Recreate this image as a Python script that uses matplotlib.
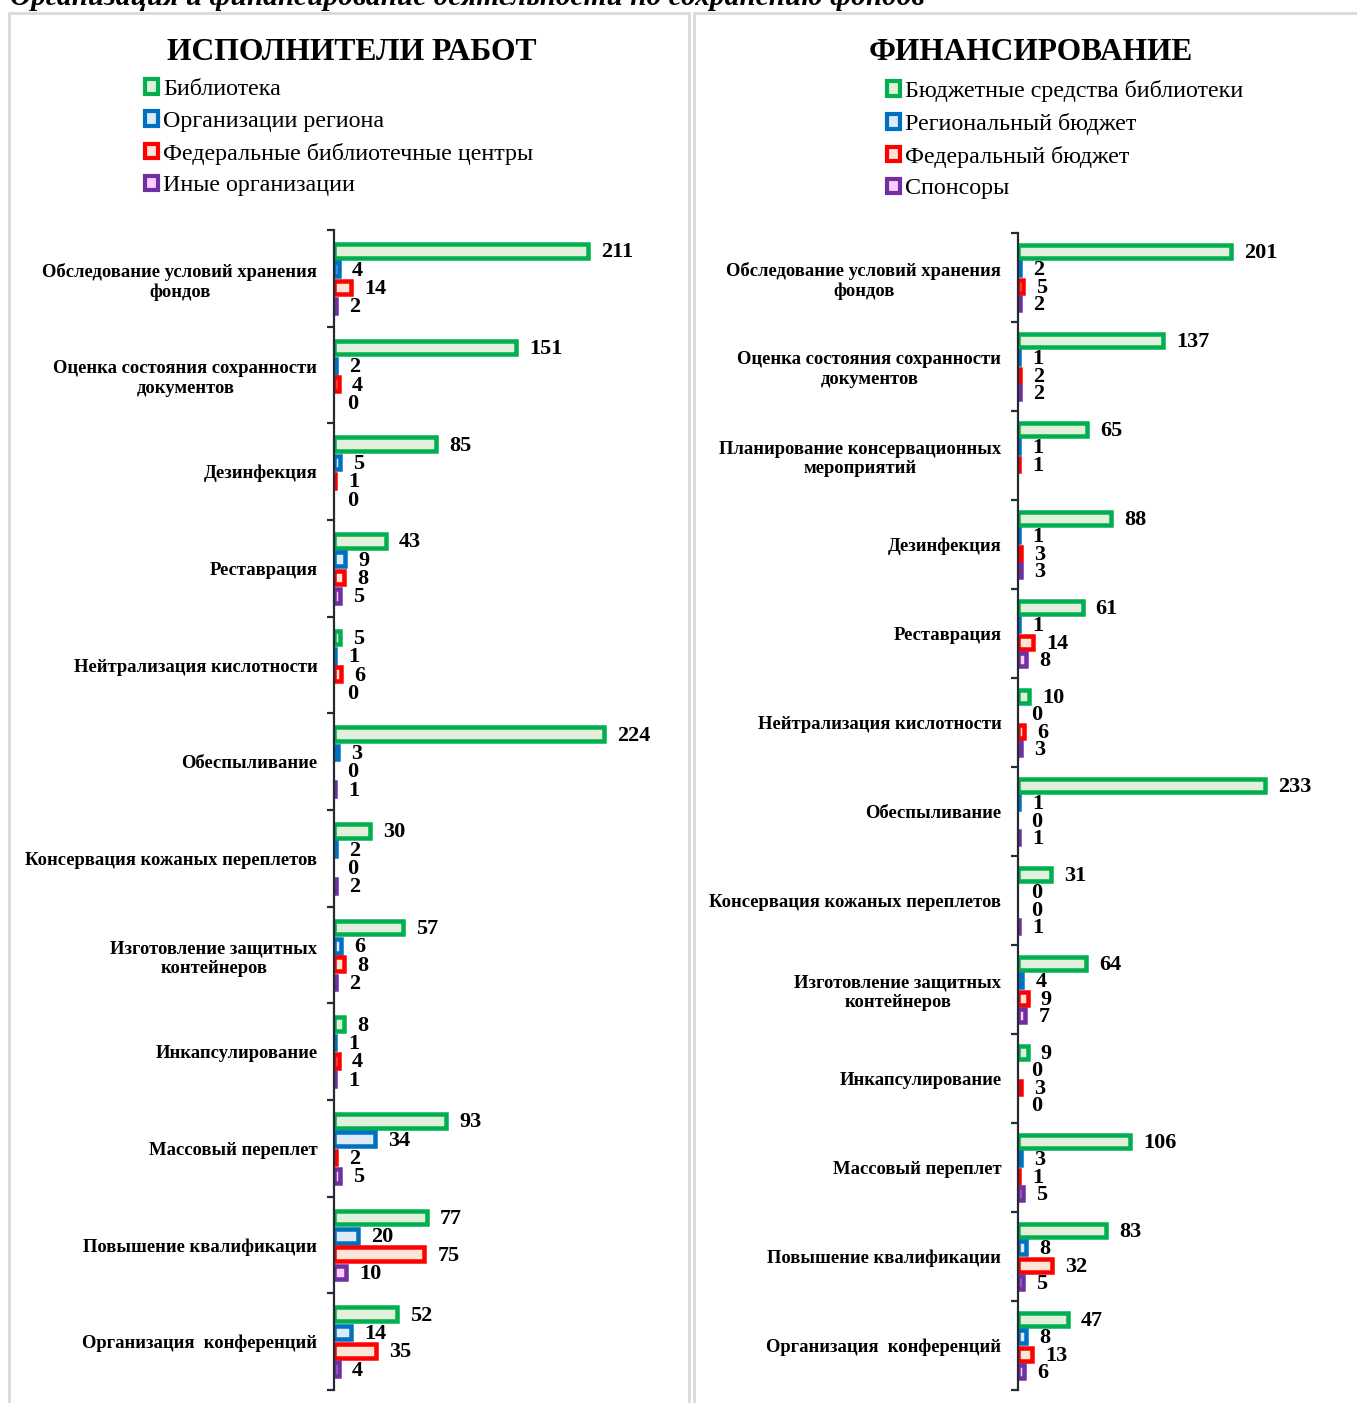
import numpy as np
import matplotlib
matplotlib.use("Agg")
import matplotlib.pyplot as plt
from matplotlib.patches import Patch, Rectangle

plt.rcParams['font.family'] = ['Liberation Serif', 'DejaVu Serif']

# --- data ---
header = "Организация и финансирование деятельности по сохранению фондов"

left_title = "ИСПОЛНИТЕЛИ РАБОТ"
left_series = ["Библиотека", "Организации региона",
               "Федеральные библиотечные центры", "Иные организации"]
left_cats = ["Обследование условий хранения\nфондов",
             "Оценка состояния сохранности\nдокументов",
             "Дезинфекция", "Реставрация", "Нейтрализация кислотности",
             "Обеспыливание", "Консервация кожаных переплетов",
             "Изготовление защитных\nконтейнеров", "Инкапсулирование",
             "Массовый переплет", "Повышение квалификации",
             "Организация  конференций"]
left_library = [211, 151, 85, 43, 5, 224, 30, 57, 8, 93, 77, 52]
left_region = [4, 2, 5, 9, 1, 3, 2, 6, 1, 34, 20, 14]
left_federal = [14, 4, 1, 8, 6, 0, 0, 8, 4, 2, 75, 35]
left_other = [2, 0, 0, 5, 0, 1, 2, 2, 1, 5, 10, 4]

right_title = "ФИНАНСИРОВАНИЕ"
right_series = ["Бюджетные средства библиотеки", "Региональный бюджет",
                "Федеральный бюджет", "Спонсоры"]
right_cats = ["Обследование условий хранения\nфондов",
              "Оценка состояния сохранности\nдокументов",
              "Планирование консервационных\nмероприятий",
              "Дезинфекция", "Реставрация", "Нейтрализация кислотности",
              "Обеспыливание", "Консервация кожаных переплетов",
              "Изготовление защитных\nконтейнеров", "Инкапсулирование",
              "Массовый переплет", "Повышение квалификации",
              "Организация  конференций"]
right_library = [201, 137, 65, 88, 61, 10, 233, 31, 64, 9, 106, 83, 47]
right_region = [2, 1, 1, 1, 1, 0, 1, 0, 4, 0, 3, 8, 8]
right_federal = [5, 2, 1, 3, 14, 6, 0, 0, 9, 3, 1, 32, 13]
right_sponsors = [2, 2, None, 3, 8, 3, 1, 1, 7, 0, 5, 5, 6]

edge_colors = ["#00B050", "#0070C0", "#FF0000", "#7030A0"]
fill_colors = ["#E2EFDA", "#DDEBF7", "#FCE4D6", "#FFCCFF"]

W, H = 1357, 1403
fig = plt.figure(figsize=(W / 100, H / 100), dpi=100)

EDGE_PX = 4.5
LW = EDGE_PX * 72 / 100


def fx(px):
    return px / W


def fy(py):
    return 1 - py / H


def draw_panel(x0, x1, y_top, y_bot, xmax, cats, series, slot):
    ax = fig.add_axes([fx(x0), fy(y_bot), fx(x1 - x0), (y_bot - y_top) / H])
    n = len(cats)
    px_per_cat = (y_bot - y_top) / n
    height = slot - EDGE_PX / px_per_cat
    y = np.arange(n)
    for j, vals in enumerate(series):
        vals = np.array([np.nan if v is None else v for v in vals], dtype=float)
        pos = y + (j - 1.5) * slot
        for yi, v in zip(pos, vals):
            if np.isnan(v):
                continue
            if v > 0:
                ax.barh(yi, v, height=height, color=fill_colors[j],
                        edgecolor=edge_colors[j], linewidth=LW, zorder=2)
            ax.annotate(f"{int(v)}", (v, yi), xytext=(9.5, -1),
                        textcoords="offset points", ha="left", va="center",
                        fontsize=16, fontweight="bold")
    ax.set_xlim(0, xmax)
    ax.set_ylim(n - 0.5, -0.5)
    for s in ["top", "right", "bottom"]:
        ax.spines[s].set_visible(False)
    ax.spines["left"].set_color("#262A33")
    ax.spines["left"].set_linewidth(1.6)
    ax.spines["left"].set_zorder(3)
    ax.set_xticks([])
    ax.set_yticks(np.arange(n + 1) - 0.5)
    ax.set_yticklabels([])
    ax.tick_params(axis="y", which="major", length=5, width=1.6, color="#262A33")
    ax.set_yticks(y, cats, minor=True)
    ax.tick_params(axis="y", which="minor", length=0, pad=12)
    for t in ax.get_yticklabels(minor=True):
        t.set_fontsize(13.4)
        t.set_fontweight("bold")
        t.set_multialignment("center")
    ax.patch.set_alpha(0)
    return ax


draw_panel(334, 680, 230, 1390, 287, left_cats,
           [left_library, left_region, left_federal, left_other], 0.19)
draw_panel(1018, 1345, 233, 1390, 309, right_cats,
           [right_library, right_region, right_federal, right_sponsors], 0.195)

# panel frames
fig.patches.append(Rectangle((fx(9), fy(1420)), fx(680), fy(13) - fy(1420),
                             transform=fig.transFigure, fill=False,
                             edgecolor="#D9D9D9", linewidth=2, zorder=0))
fig.patches.append(Rectangle((fx(694), fy(1420)), fx(700), fy(13) - fy(1420),
                             transform=fig.transFigure, fill=False,
                             edgecolor="#D9D9D9", linewidth=2, zorder=0))

# titles
fig.text(fx(10), fy(5), header, ha="left", va="baseline", fontsize=21.2,
         fontweight="bold", fontstyle="italic")
fig.text(fx(352), fy(53), left_title, ha="center", va="center", fontsize=22.8,
         fontweight="bold")
fig.text(fx(1031), fy(53), right_title, ha="center", va="center", fontsize=22.6,
         fontweight="bold")


def draw_legend(x, y, labels):
    handles = [Patch(facecolor=fill_colors[i], edgecolor=edge_colors[i],
                     linewidth=3) for i in range(4)]
    fig.legend(handles, labels, loc="upper left", bbox_to_anchor=(fx(x), fy(y)),
               frameon=False, fontsize=17.3, handlelength=0.55, handleheight=0.55,
               handletextpad=0.2, labelspacing=0.45, borderpad=0,
               borderaxespad=0)


draw_legend(145, 79, left_series)
draw_legend(887, 80, right_series)

fig.savefig("out.png", dpi=100)
